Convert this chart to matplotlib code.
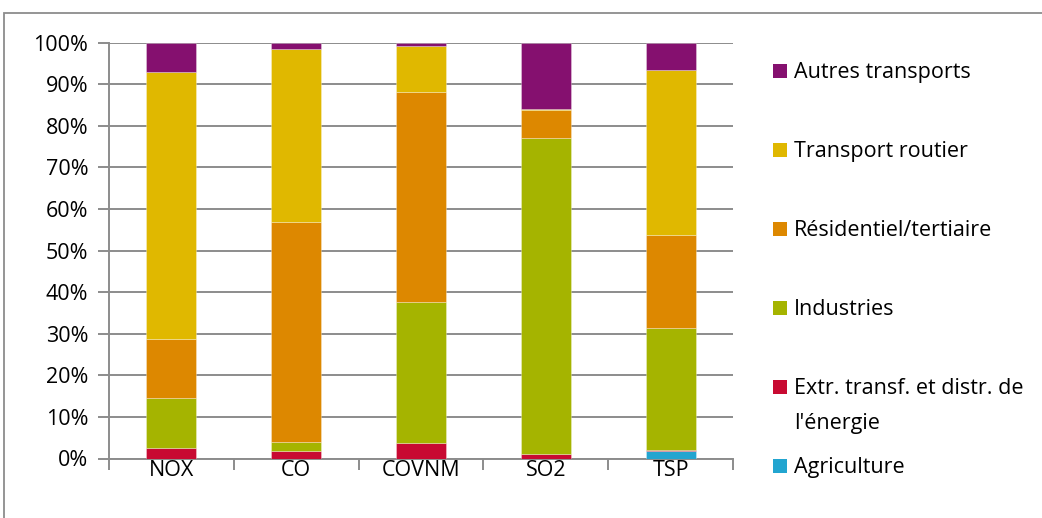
import matplotlib.pyplot as plt
import numpy as np
from matplotlib.patches import Rectangle

plt.rcParams['font.family'] = ['Open Sans', 'DejaVu Sans']

categories = ['NOX', 'CO', 'COVNM', 'SO2', 'TSP']

# Share of each sector in total emissions (%), bottom to top
sectors = [
    'Agriculture',
    "Extr. transf. et distr. de\nl'énergie",
    'Industries',
    'Résidentiel/tertiaire',
    'Transport routier',
    'Autres transports',
]
agriculture = [0.0, 0.0, 0.0, 0.0, 1.8]
energie = [2.6, 1.8, 3.7, 1.0, 0.2]
industries = [11.9, 2.1, 34.0, 76.0, 29.3]
residentiel = [14.2, 52.9, 50.5, 6.7, 22.5]
routier = [64.3, 41.6, 11.1, 0.4, 39.6]
autres = [7.0, 1.6, 0.7, 15.9, 6.6]

colors = ['#22A5D0', '#C80A32', '#A5B400', '#DD8800', '#E0B800', '#85106F']
yticks = np.arange(0, 101, 10)
FS = 15.5

W, H = 1042, 518
fig = plt.figure(figsize=(W / 100, H / 100), dpi=100)

# chart frame
fig.patches.append(Rectangle(
    (4 / W, -0.05), 1.2, 1 - 13 / H + 0.05,
    transform=fig.transFigure, fill=False, edgecolor='#8c8c8c', linewidth=1.3,
))

ax = fig.add_axes([109 / W, 1 - 458.5 / H, 624 / W, 415.8 / H])

x = np.arange(len(categories))
bottom = np.zeros(len(categories))
series = [agriculture, energie, industries, residentiel, routier, autres]
for values, color in zip(series, colors):
    values = np.array(values)
    ax.bar(x, values, width=0.4, bottom=bottom, color=color,
           edgecolor=(1, 1, 1, 0.35), linewidth=0.6, zorder=3)
    bottom += values

ax.set_xlim(-0.5, len(categories) - 0.5)
ax.set_ylim(0, 100)
ax.set_yticks(yticks)
ax.set_yticklabels([f'{v}%' for v in yticks])
ax.set_xticks(x)
ax.set_xticklabels(categories)
ax.set_xticks(np.arange(-0.5, len(categories), 1), minor=True)

grid_color = '#8c8c8c'
ax.yaxis.grid(True, color=grid_color, linewidth=1.4, zorder=0)
ax.set_axisbelow(True)
for side in ['top', 'right']:
    ax.spines[side].set_visible(False)
for side in ['left', 'bottom']:
    ax.spines[side].set_color(grid_color)
    ax.spines[side].set_linewidth(1.4)

ax.tick_params(axis='y', direction='out', length=8, width=1.4,
               color=grid_color, labelsize=FS, pad=7)
ax.tick_params(axis='x', which='major', length=0, labelsize=FS, pad=1)
ax.tick_params(axis='x', which='minor', direction='out', length=8,
               width=1.4, color=grid_color)

# legend, top entry first
y0, step = 71, 79
for i, (name, color) in enumerate(zip(sectors[::-1], colors[::-1])):
    y = y0 + i * step
    fig.patches.append(Rectangle(
        (773 / W, 1 - (y + 7) / H), 14 / W, 14 / H,
        transform=fig.transFigure, facecolor=color, edgecolor='none',
    ))
    fig.text(794 / W, 1 - (y - 9) / H, name, fontsize=FS,
             va='top', ha='left', linespacing=1.85)

fig.savefig('out.png', dpi=100)
